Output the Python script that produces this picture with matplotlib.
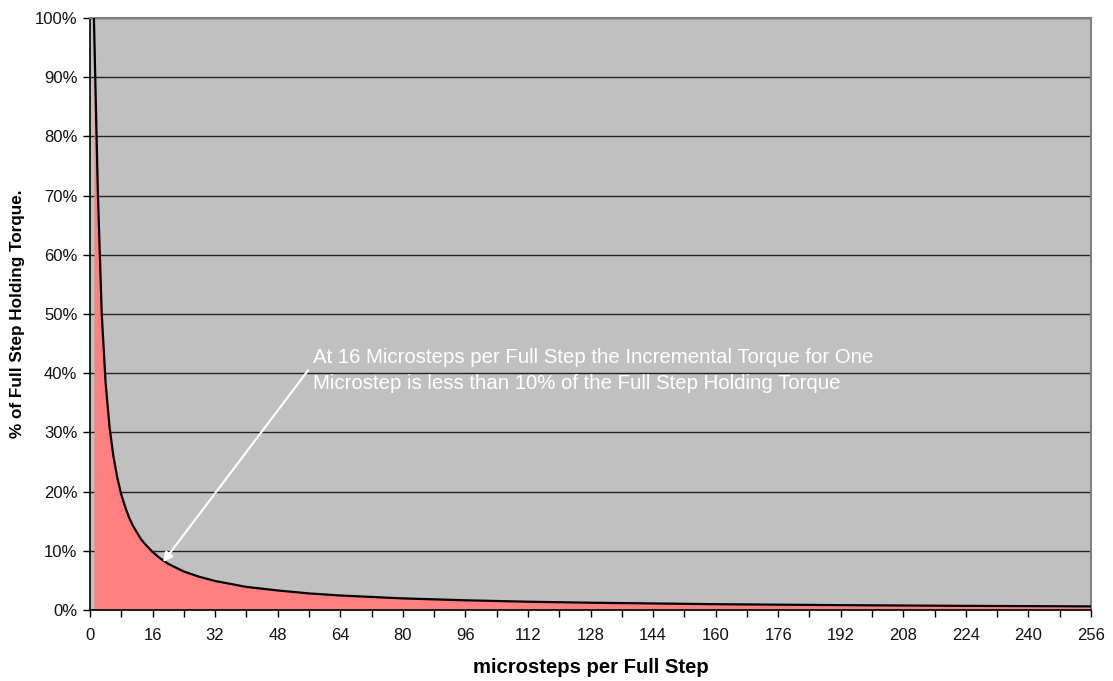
import matplotlib
matplotlib.use("Agg")
import matplotlib.pyplot as plt
from matplotlib.ticker import FixedLocator, FuncFormatter

plt.rcParams['font.family'] = ['Liberation Sans', 'DejaVu Sans']

# microsteps per full step and incremental torque (% of full step holding torque)
microsteps = [1, 2, 3, 4, 5, 6, 7, 8, 9, 10, 11, 12, 13, 14, 15, 16,
              18, 20, 24, 28, 32, 36, 40, 48, 56, 64, 80, 96, 112, 128,
              160, 192, 224, 256]
torque_pct = [100.0, 70.7, 50.0, 38.3, 30.9, 25.9, 22.3, 19.5, 17.4, 15.6,
              14.2, 13.1, 12.0, 11.2, 10.5, 9.8,
              8.7, 7.8, 6.5, 5.6, 4.9, 4.4, 3.9, 3.3, 2.8, 2.45, 1.96, 1.64,
              1.40, 1.23, 0.98, 0.82, 0.70, 0.61]

x_ticks = list(range(0, 257, 16))
y_ticks = list(range(0, 101, 10))

annot_lines = ["At 16 Microsteps per Full Step the Incremental Torque for One",
               "Microstep is less than 10% of the Full Step Holding Torque"]

fig = plt.figure(figsize=(11.13, 6.81), dpi=100)
ax = fig.add_axes([90/1113, 1 - 610/681, (1091-90)/1113, (610-18)/681])
ax.set_facecolor('#C0C0C0')

ax.fill_between(microsteps, torque_pct, 0, color='#FF8080', zorder=2, linewidth=0)
ax.plot(microsteps, torque_pct, color='black', linewidth=1.6, zorder=3)

ax.set_xlim(0, 256)
ax.set_ylim(0, 100)

ax.xaxis.set_major_locator(FixedLocator(x_ticks))
ax.xaxis.set_minor_locator(FixedLocator(list(range(8, 257, 16))))
ax.yaxis.set_major_locator(FixedLocator(y_ticks))
ax.yaxis.set_major_formatter(FuncFormatter(lambda v, p: f"{int(v)}%"))

ax.grid(axis='y', which='major', color='#222222', linewidth=1.0, zorder=1)
ax.set_axisbelow(True)

ax.tick_params(axis='both', which='major', labelsize=12, length=5, width=1,
               color='black', labelcolor='#111111', direction='out')
ax.tick_params(axis='x', which='minor', length=5, width=1, color='black')
ax.tick_params(axis='x', pad=8)
ax.tick_params(axis='y', pad=4)

for s in ['left', 'bottom']:
    ax.spines[s].set_color('black')
    ax.spines[s].set_linewidth(1.2)
for s in ['top', 'right']:
    ax.spines[s].set_color('#808080')
    ax.spines[s].set_linewidth(1.5)

ax.set_xlabel('microsteps per Full Step', fontsize=14.6, fontweight='bold', labelpad=10.5)
ax.set_ylabel('% of Full Step Holding Torque.', fontsize=12.3, fontweight='bold', labelpad=7)

ax.annotate('', xy=(18.7, 8.1), xytext=(55.8, 40.5),
            arrowprops=dict(arrowstyle='-|>', color='white', lw=1.5,
                            mutation_scale=14, shrinkA=0, shrinkB=0), zorder=5)
ax.text(57.0, 41.7, annot_lines[0], color='white', fontsize=14.7,
        ha='left', va='baseline', zorder=6)
ax.text(57.0, 37.35, annot_lines[1], color='white', fontsize=14.7,
        ha='left', va='baseline', zorder=6)

fig.savefig('out.png', dpi=100)
